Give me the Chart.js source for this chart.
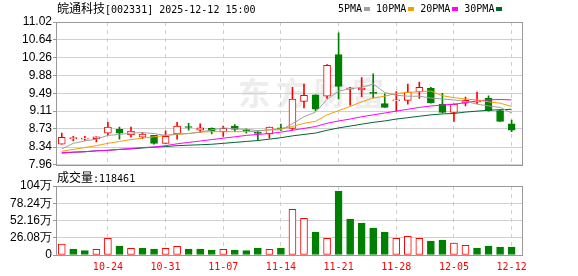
<!DOCTYPE html>
<html>
<head>
<meta charset="utf-8">
<script src="https://cdn.jsdelivr.net/npm/chart.js@4.4.1/dist/chart.umd.min.js"></script>
<style>
  body { margin: 0; background: #fff; }
  #wrap { position: relative; width: 578px; height: 276px; overflow: hidden; }
  canvas { position: absolute; left: 0; }
  #price { top: 0; }
  #vol { top: 170px; }
  .txt { position: absolute; white-space: nowrap; color: #000; line-height: 12px; }
  .cjk { font-family: "Noto Sans CJK SC", sans-serif; font-size: 12px; }
  .mono { font-family: "DejaVu Sans Mono", monospace; font-size: 10px; }
  .sq { display: inline-block; width: 6px; height: 4px; margin: 0 6px 1px 2px; vertical-align: middle; }
  #wm { position: absolute; left: 238px; top: 68px; font-family: "Noto Sans CJK SC", sans-serif;
        font-weight: bold; font-size: 32px; color: #ededed; letter-spacing: 6px; }
</style>
</head>
<body>
<div id="wrap">
  <div id="wm">东方财富</div>
  <canvas id="price" width="578" height="173"></canvas>
  <canvas id="vol" width="578" height="106"></canvas>
  <div class="txt" style="left:57px;top:2px"><span class="cjk">皖通科技</span><span class="mono">[002331] 2025-12-12 15:00</span></div>
  <div class="txt mono" style="left:338px;top:3px">5PMA<span class="sq" style="background:#a0a0a0"></span>10PMA<span class="sq" style="background:#f0a000"></span>20PMA<span class="sq" style="background:#ff00ff"></span>30PMA<span class="sq" style="background:#006633"></span></div>
  <div class="txt" style="left:57px;top:171px"><span class="cjk">成交量</span><span class="mono">:118461</span></div>
</div>
<script>
const dates = ['10-20', '10-21', '10-22', '10-23', '10-24', '10-27', '10-28', '10-29', '10-30', '10-31',
  '11-03', '11-04', '11-05', '11-06', '11-07', '11-10', '11-11', '11-12', '11-13', '11-14',
  '11-17', '11-18', '11-19', '11-20', '11-21', '11-24', '11-25', '11-26', '11-27', '11-28',
  '12-01', '12-02', '12-03', '12-04', '12-05', '12-08', '12-09', '12-10', '12-11', '12-12'];
const xTickLabels = ['10-24', '10-31', '11-07', '11-14', '11-21', '11-28', '12-05', '12-12'];

const open = [8.40, 8.52, 8.51, 8.52, 8.64, 8.72, 8.60, 8.55, 8.59, 8.42, 8.62, 8.78, 8.70, 8.74, 8.67, 8.79, 8.71, 8.66, 8.62, 8.74,
  8.74, 9.32, 9.46, 9.43, 10.32, 9.58, 9.57, 9.50, 9.27, 9.33, 9.34, 9.52, 9.60, 9.26, 9.08, 9.28, 9.30, 9.39, 9.12, 8.84];
const close = [8.55, 8.53, 8.52, 8.56, 8.77, 8.64, 8.68, 8.62, 8.42, 8.57, 8.79, 8.76, 8.75, 8.69, 8.74, 8.72, 8.68, 8.63, 8.77, 8.73,
  9.37, 9.45, 9.15, 10.09, 9.64, 9.61, 9.60, 9.49, 9.19, 9.34, 9.52, 9.62, 9.29, 9.08, 9.26, 9.34, 9.32, 9.12, 8.89, 8.70];
const high = [8.64, 8.57, 8.57, 8.56, 8.87, 8.77, 8.77, 8.65, 8.59, 8.69, 8.87, 8.85, 8.84, 8.75, 8.79, 8.82, 8.73, 8.70, 8.77, 8.83,
  9.62, 9.69, 9.46, 10.11, 10.79, 9.62, 9.83, 9.91, 9.48, 9.53, 9.69, 9.73, 9.62, 9.49, 9.26, 9.41, 9.52, 9.44, 9.14, 8.92];
const low = [8.40, 8.47, 8.48, 8.45, 8.59, 8.51, 8.55, 8.52, 8.40, 8.42, 8.51, 8.70, 8.65, 8.62, 8.57, 8.67, 8.64, 8.49, 8.53, 8.69,
  8.71, 9.18, 9.12, 9.38, 9.37, 9.24, 9.42, 9.40, 9.19, 9.11, 9.26, 9.38, 9.28, 9.07, 8.89, 9.22, 9.27, 9.11, 8.89, 8.67];

const ma5 = [8.30, 8.42, 8.47, 8.51, 8.59, 8.61, 8.64, 8.65, 8.63, 8.59, 8.62, 8.63, 8.66, 8.71, 8.75, 8.73, 8.72, 8.69, 8.71, 8.71,
  8.84, 8.99, 9.09, 9.36, 9.54, 9.59, 9.62, 9.69, 9.51, 9.45, 9.43, 9.43, 9.39, 9.37, 9.35, 9.32, 9.26, 9.22, 9.19, 9.07];
const ma10 = [8.25, 8.29, 8.33, 8.37, 8.42, 8.46, 8.50, 8.53, 8.56, 8.59, 8.61, 8.63, 8.66, 8.67, 8.67, 8.67, 8.67, 8.68, 8.71, 8.73,
  8.78, 8.85, 8.89, 9.03, 9.12, 9.21, 9.31, 9.39, 9.43, 9.49, 9.51, 9.53, 9.54, 9.44, 9.40, 9.37, 9.35, 9.31, 9.28, 9.21];
const ma20 = [8.22, 8.23, 8.24, 8.26, 8.27, 8.29, 8.31, 8.33, 8.34, 8.37, 8.41, 8.44, 8.47, 8.50, 8.53, 8.56, 8.59, 8.61, 8.63, 8.66,
  8.70, 8.74, 8.78, 8.85, 8.90, 8.94, 8.99, 9.03, 9.07, 9.11, 9.15, 9.19, 9.22, 9.24, 9.26, 9.29, 9.33, 9.35, 9.36, 9.35];
const ma30 = [8.21, 8.23, 8.24, 8.26, 8.27, 8.29, 8.30, 8.32, 8.34, 8.35, 8.37, 8.38, 8.39, 8.40, 8.42, 8.44, 8.46, 8.48, 8.51, 8.54,
  8.58, 8.61, 8.64, 8.70, 8.75, 8.79, 8.83, 8.87, 8.90, 8.94, 8.97, 9.00, 9.03, 9.05, 9.06, 9.09, 9.11, 9.13, 9.14, 9.15];

// volume in 万手
const volume = [16.6, 9.1, 6.6, 8.6, 25.2, 13.6, 10.1, 10.6, 9.1, 10.1, 13.1, 9.1, 9.1, 7.6, 8.6, 7.6, 6.6, 10.6, 8.6, 10.6,
  69.0, 55.4, 34.8, 25.2, 96.8, 54.4, 48.4, 40.8, 34.8, 25.2, 28.2, 25.2, 21.2, 22.7, 18.1, 14.6, 10.6, 13.6, 12.1, 11.85];

const priceTicks = [7.96, 8.34, 8.73, 9.11, 9.49, 9.88, 10.26, 10.64, 11.02];
const volTicks = [0, 26.08, 52.16, 78.24, 104.32];
const volTickLabels = ['0', '26.08万', '52.16万', '78.24万', '104万'];

const UP = '#ff0000';
const DOWN = '#008000';
const GRID = '#d0d0d0';

const candleUp = open.map((o, i) => close[i] >= o);
const volUp = close.map((c, i) => c >= (i === 0 ? open[0] : close[i - 1]));
const tickIdx = xTickLabels.map(d => dates.indexOf(d));

const framePlugin = {
  id: 'frame',
  afterDraw(chart) {
    const { ctx, chartArea } = chart;
    ctx.save();
    ctx.strokeStyle = '#999';
    ctx.lineWidth = 1;
    ctx.strokeRect(Math.round(chartArea.left) + 0.5, Math.round(chartArea.top) + 0.5,
      Math.round(chartArea.width), Math.round(chartArea.height));
    ctx.restore();
  }
};

function xAxis(showLabels) {
  return {
    type: 'linear',
    min: -0.5,
    max: 39.9,
    offset: false,
    afterBuildTicks(scale) {
      scale.ticks = tickIdx.map(v => ({ value: v }));
    },
    afterFit(scale) {
      scale.height = showLabels ? 21 : 8;
    },
    grid: { color: GRID, drawTicks: false, offset: false },
    border: { display: false, dash: [4, 4] },
    ticks: {
      display: showLabels,
      autoSkip: false,
      maxRotation: 0,
      padding: 6,
      color: UP,
      font: { family: 'DejaVu Sans Mono', size: 10 },
      callback: v => dates[v]
    }
  };
}

function yAxis(min, max, ticks, label) {
  return {
    min,
    max,
    afterBuildTicks(scale) {
      scale.ticks = ticks.map(v => ({ value: v }));
    },
    afterFit(scale) {
      scale.width = 56;
    },
    grid: { color: GRID, tickLength: 3, tickColor: '#999' },
    border: { display: false },
    ticks: {
      autoSkip: false,
      padding: 1,
      color: '#000',
      font: { family: 'Liberation Sans', size: 12 },
      callback: label
    }
  };
}

const common = {
  responsive: false,
  animation: false,
  events: [],
  plugins: { legend: { display: false }, tooltip: { enabled: false } }
};

const xy = arr => arr.map((v, i) => ({ x: i, y: v }));
const maLine = (data, color) => ({
  type: 'line',
  data: xy(data),
  borderColor: color,
  borderWidth: 1,
  pointRadius: 0,
  tension: 0,
  order: 0
});

new Chart(document.getElementById('price'), {
  type: 'bar',
  data: {
    datasets: [
      maLine(ma5, '#a0a0a0'),
      maLine(ma10, '#f0a000'),
      maLine(ma20, '#ff00ff'),
      maLine(ma30, '#006633'),
      {
        data: open.map((o, i) => ({ x: i, y: [o, close[i]] })),
        backgroundColor: candleUp.map(u => (u ? '#ffffff' : DOWN)),
        borderColor: candleUp.map(u => (u ? UP : DOWN)),
        borderWidth: 1,
        borderSkipped: false,
        barThickness: 7,
        minBarLength: 1,
        grouped: false,
        order: 5
      },
      {
        data: low.map((l, i) => ({ x: i, y: [l, high[i]] })),
        backgroundColor: candleUp.map(u => (u ? UP : DOWN)),
        borderWidth: 0,
        barThickness: 1,
        grouped: false,
        order: 6
      }
    ]
  },
  options: {
    ...common,
    layout: { padding: { left: 0, right: 56, top: 22, bottom: 0 } },
    scales: {
      x: xAxis(false),
      y: yAxis(7.96, 11.02, priceTicks, v => v.toFixed(2))
    }
  },
  plugins: [framePlugin]
});

new Chart(document.getElementById('vol'), {
  type: 'bar',
  data: {
    datasets: [{
      data: xy(volume),
      backgroundColor: volUp.map(u => (u ? '#ffffff' : DOWN)),
      borderColor: volUp.map(u => (u ? UP : DOWN)),
      borderWidth: 1,
      borderSkipped: false,
      barThickness: 7,
      grouped: false
    }]
  },
  options: {
    ...common,
    layout: { padding: { left: 0, right: 56, top: 16, bottom: 0 } },
    scales: {
      x: xAxis(true),
      y: yAxis(0, 104.32, volTicks, (v, i) => volTickLabels[i])
    }
  },
  plugins: [framePlugin]
});
</script>
</body>
</html>
